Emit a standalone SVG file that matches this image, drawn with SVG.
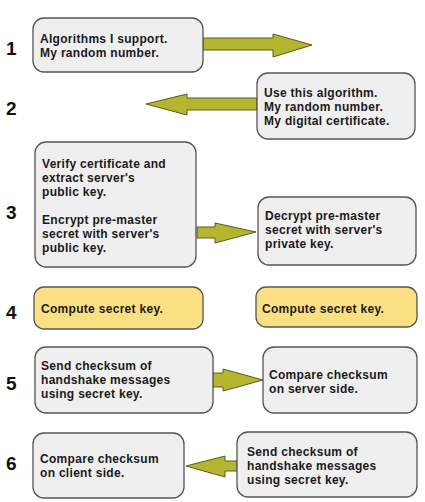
<svg xmlns="http://www.w3.org/2000/svg" width="425" height="502" viewBox="0 0 425 502">
<style>
.box{fill:#efefef;stroke:#555;stroke-width:1.3}
.ybox{fill:#fbe083;stroke:#555;stroke-width:1.3}
.t{font-family:"Liberation Sans",Arial,sans-serif;font-weight:bold;font-size:12px;letter-spacing:0.3px;fill:#1a1a1a}
.n{font-family:"Liberation Sans",Arial,sans-serif;font-weight:bold;font-size:19px;fill:#111}
.arr{fill:#b4b630;stroke:#5a5a20;stroke-width:1}
</style>
<rect width="425" height="502" fill="#fff"/>
<g id="labels">
<text class="n" x="6" y="55">1</text>
<text class="n" x="6" y="115">2</text>
<text class="n" x="6" y="219">3</text>
<text class="n" x="6" y="319">4</text>
<text class="n" x="6" y="390">5</text>
<text class="n" x="6" y="470">6</text>
</g>
<g id="connectors">
<polygon class="arr" points="203,38 273,38 273,34 312,45 273,57 273,50 203,50"/>
<polygon class="arr" points="257,98 187,98 187,94 146,104 187,115 187,110 257,110"/>
<polygon class="arr" points="197,227 215,227 215,223 256,232 215,243 215,238 197,238"/>
<polygon class="arr" points="213,373 223,373 223,369 263,380 223,391 223,387 213,387"/>
<polygon class="arr" points="237,461 225,461 225,456 186,466 225,477 225,471 237,471"/>
</g>
<g id="n1">
<rect class="box" x="33" y="18" width="170" height="54" rx="11"/>
<text class="t" x="40" y="43">Algorithms I support.</text>
<text class="t" x="40" y="57">My random number.</text>
</g>
<g id="n2">
<rect class="box" x="257" y="73" width="158" height="66" rx="11"/>
<text class="t" x="264" y="97">Use this algorithm.</text>
<text class="t" x="264" y="111">My random number.</text>
<text class="t" x="264" y="125">My digital certificate.</text>
</g>
<g id="n3a">
<rect class="box" x="35" y="142" width="161" height="125" rx="11"/>
<text class="t" x="42" y="168">Verify certificate and</text>
<text class="t" x="42" y="182">extract server's</text>
<text class="t" x="42" y="196">public key.</text>
<text class="t" x="42" y="224">Encrypt pre-master</text>
<text class="t" x="42" y="238">secret with server's</text>
<text class="t" x="42" y="252">public key.</text>
</g>
<g id="n3b">
<rect class="box" x="258" y="197" width="158" height="68" rx="11"/>
<text class="t" x="265" y="220">Decrypt pre-master</text>
<text class="t" x="265" y="234">secret with server's</text>
<text class="t" x="265" y="248">private key.</text>
</g>
<g id="n4a">
<rect class="ybox" x="34" y="287" width="169" height="42" rx="10"/>
<text class="t" x="41" y="313">Compute secret key.</text>
</g>
<g id="n4b">
<rect class="ybox" x="256" y="287" width="161" height="40" rx="10"/>
<text class="t" x="262" y="313">Compute secret key.</text>
</g>
<g id="n5a">
<rect class="box" x="35" y="347" width="178" height="66" rx="11"/>
<text class="t" x="41" y="370">Send checksum of</text>
<text class="t" x="41" y="384">handshake messages</text>
<text class="t" x="41" y="398">using secret key.</text>
</g>
<g id="n5b">
<rect class="box" x="263" y="347" width="154" height="66" rx="11"/>
<text class="t" x="269" y="379">Compare checksum</text>
<text class="t" x="269" y="393">on server side.</text>
</g>
<g id="n6a">
<rect class="box" x="33" y="433" width="151" height="65" rx="11"/>
<text class="t" x="40" y="463">Compare checksum</text>
<text class="t" x="40" y="477">on client side.</text>
</g>
<g id="n6b">
<rect class="box" x="237" y="432" width="180" height="65" rx="11"/>
<text class="t" x="247" y="456">Send checksum of</text>
<text class="t" x="247" y="470">handshake messages</text>
<text class="t" x="247" y="484">using secret key.</text>
</g>
</svg>
